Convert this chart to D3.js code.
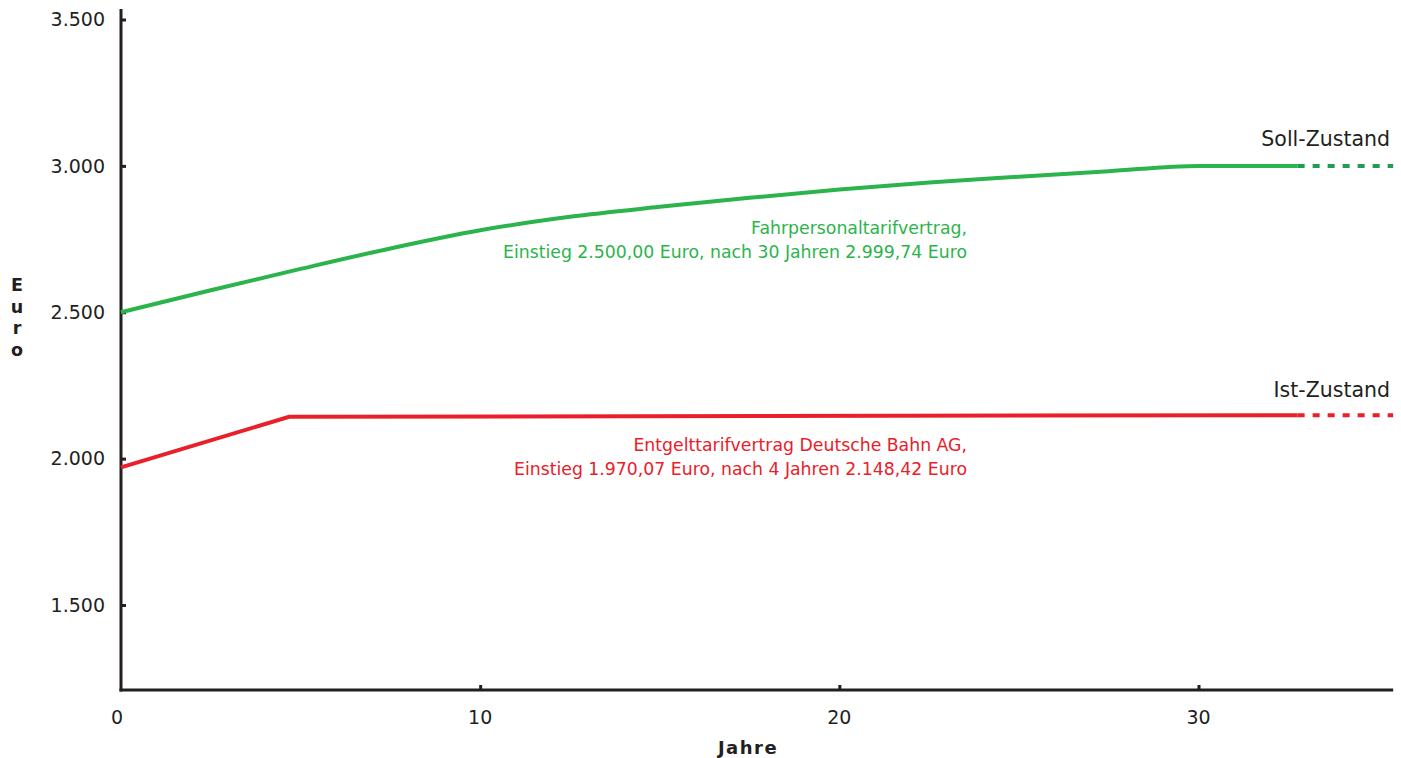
<!DOCTYPE html>
<html>
<head>
<meta charset="utf-8">
<script src="https://cdn.jsdelivr.net/npm/d3@7/dist/d3.min.js"></script>
<style>
  html, body { margin: 0; padding: 0; background: #fff; }
  svg { display: block; font-family: "DejaVu Sans", "Noto Sans", sans-serif; }
</style>
</head>
<body>
<svg id="chart" width="1401" height="758"></svg>
<script>
// Fahrpersonaltarifvertrag (Soll-Zustand): Jahre / Euro
const sollYears  = [0, 2.5, 5, 7.5, 10, 12.5, 15, 17.5, 20, 22.5, 25, 27.5, 30, 32.76];
const sollValues = [2500, 2575, 2648, 2718, 2780, 2826, 2860, 2891, 2919, 2943, 2963, 2982, 2999.74, 2999.74];

// Entgelttarifvertrag Deutsche Bahn AG (Ist-Zustand)
const istYears  = [0, 4.68, 32.76];
const istValues = [1970.07, 2143, 2148.42];

// Gestrichelte Fortschreibung
const extYears = [32.76, 35.42];

const xTicks = [0, 10, 20, 30];
const yTicks = [1500, 2000, 2500, 3000, 3500];

const colAxis = "#231f20";
const colGreen = "#2bb44c";
const colGreenDash = "#1f9d50";
const colRed = "#e9202a";

const svg = d3.select("#chart");

const x = d3.scaleLinear().domain([0, 30]).range([121, 1198.5]);
const y = d3.scaleLinear().domain([1500, 3500]).range([605, 19.5]);

const xEnd = 35.42;
const yBottom = 690;

const fmt = d3.formatLocale({ decimal: ",", thousands: ".", grouping: [3], currency: ["", " €"] }).format(",d");

// Achsen
const yAxis = d3.axisRight(y).tickValues(yTicks).tickSize(5).tickFormat("");
const gy = svg.append("g").attr("transform", `translate(${x(0)},0)`).call(yAxis);
gy.select(".domain").remove();
gy.selectAll(".tick line").attr("stroke", colAxis).attr("stroke-width", 3);

svg.append("line")
  .attr("x1", x(0)).attr("x2", x(0))
  .attr("y1", 9).attr("y2", yBottom + 1.5)
  .attr("stroke", colAxis).attr("stroke-width", 3);

const xAxis = d3.axisTop(x).tickValues(xTicks.filter(d => d > 0)).tickSize(5).tickFormat("");
const gx = svg.append("g").attr("transform", `translate(0,${yBottom})`).call(xAxis);
gx.select(".domain").remove();
gx.selectAll(".tick line").attr("stroke", colAxis).attr("stroke-width", 3);

svg.append("line")
  .attr("x1", x(0) - 1.5).attr("x2", x(xEnd))
  .attr("y1", yBottom).attr("y2", yBottom)
  .attr("stroke", colAxis).attr("stroke-width", 3);

// Achsbeschriftungen
svg.append("g").selectAll("text").data(yTicks).join("text")
  .attr("x", 105).attr("y", d => y(d))
  .attr("dy", "0.36em")
  .attr("text-anchor", "end")
  .attr("font-size", 19)
  .attr("fill", colAxis)
  .text(d => fmt(d));

svg.append("g").selectAll("text").data(xTicks).join("text")
  .attr("x", d => x(d) - (d === 0 ? 4 : 0)).attr("y", 724)
  .attr("text-anchor", "middle")
  .attr("font-size", 19)
  .attr("fill", colAxis)
  .text(d => d);

svg.append("text")
  .attr("x", 748).attr("y", 754)
  .attr("text-anchor", "middle")
  .attr("font-size", 18)
  .attr("font-weight", "bold")
  .attr("letter-spacing", 1.5)
  .attr("fill", colAxis)
  .text("Jahre");

svg.append("g").selectAll("text").data("Euro".split("")).join("text")
  .attr("x", 17).attr("y", (d, i) => 291 + i * 21.7)
  .attr("text-anchor", "middle")
  .attr("font-size", 17.5)
  .attr("font-weight", "bold")
  .attr("fill", colAxis)
  .text(d => d);

// Linien
const line = d3.line().x(d => x(d[0])).y(d => y(d[1]));
const sollData = sollYears.map((t, i) => [t, sollValues[i]]);
const istData = istYears.map((t, i) => [t, istValues[i]]);

svg.append("path")
  .datum(sollData)
  .attr("d", line.curve(d3.curveMonotoneX))
  .attr("fill", "none").attr("stroke", colGreen).attr("stroke-width", 4);

svg.append("path")
  .datum(istData)
  .attr("d", line.curve(d3.curveLinear))
  .attr("fill", "none").attr("stroke", colRed).attr("stroke-width", 4);

const lastSoll = sollValues[sollValues.length - 1];
const lastIst = istValues[istValues.length - 1];

svg.append("path")
  .datum(extYears.map(t => [t, lastSoll]))
  .attr("d", line.curve(d3.curveLinear))
  .attr("fill", "none").attr("stroke", colGreenDash).attr("stroke-width", 4)
  .attr("stroke-dasharray", "7 8");

svg.append("path")
  .datum(extYears.map(t => [t, lastIst]))
  .attr("d", line.curve(d3.curveLinear))
  .attr("fill", "none").attr("stroke", colRed).attr("stroke-width", 4)
  .attr("stroke-dasharray", "7 8");

// Serienbeschriftungen
svg.append("text")
  .attr("x", 1390).attr("y", 146)
  .attr("text-anchor", "end").attr("font-size", 20.5)
  .attr("fill", colAxis).text("Soll-Zustand");

svg.append("text")
  .attr("x", 1390).attr("y", 397)
  .attr("text-anchor", "end").attr("font-size", 20.5)
  .attr("fill", colAxis).text("Ist-Zustand");

const noteGreen = ["Fahrpersonaltarifvertrag,", "Einstieg 2.500,00 Euro, nach 30 Jahren 2.999,74 Euro"];
const noteRed = ["Entgelttarifvertrag Deutsche Bahn AG,", "Einstieg 1.970,07 Euro, nach 4 Jahren 2.148,42 Euro"];

svg.append("g").selectAll("text").data(noteGreen).join("text")
  .attr("x", 967).attr("y", (d, i) => 234 + i * 24)
  .attr("text-anchor", "end").attr("font-size", 17.3)
  .attr("fill", colGreen).text(d => d);

svg.append("g").selectAll("text").data(noteRed).join("text")
  .attr("x", 967).attr("y", (d, i) => 451 + i * 24)
  .attr("text-anchor", "end").attr("font-size", 17.3)
  .attr("fill", colRed).text(d => d);
</script>
</body>
</html>
